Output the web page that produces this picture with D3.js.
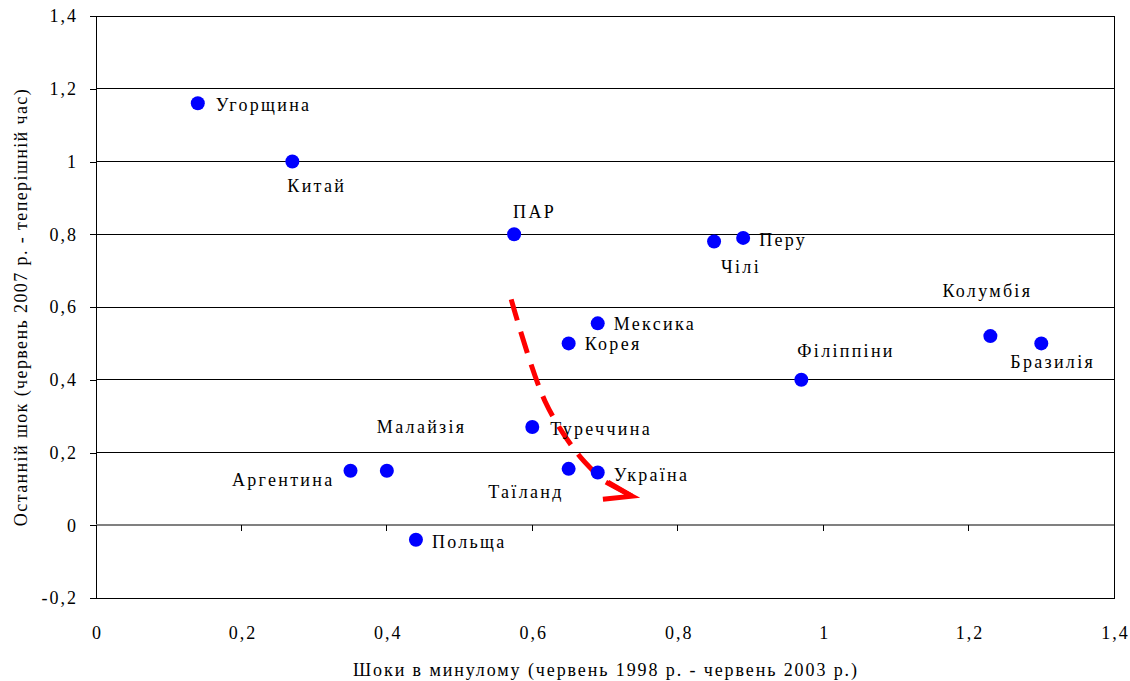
<!DOCTYPE html>
<html><head><meta charset="utf-8">
<script src="https://cdn.jsdelivr.net/npm/d3@7"></script>
<style>body{margin:0;background:#fff}svg{display:block}</style>
</head><body><svg id="c" width="1130" height="681"></svg>
<script>
const countries = ["Угорщина","Китай","ПАР","Чілі","Перу","Мексика","Корея","Філіппіни","Колумбія","Бразилія","Туреччина","Таїланд","Україна","Аргентина","Малайзія","Польща"];
const pastShock = [0.14,0.27,0.575,0.85,0.89,0.69,0.65,0.97,1.23,1.30,0.60,0.65,0.69,0.35,0.40,0.44];
const recentShock = [1.16,1.0,0.80,0.78,0.79,0.555,0.50,0.40,0.52,0.50,0.27,0.155,0.145,0.15,0.15,-0.04];
// label placement: [dx, dy, anchor]
const labelPlace = [[18,8,"start"],[-5,30,"start"],[-1,-16,"start"],[7,31,"start"],[16,8,"start"],[16,7,"start"],[16,7,"start"],[-4,-23,"start"],[-48,-39,"start"],[-31,25,"start"],[18,8,"start"],[-5,29,"end"],[16,8,"start"],[-16,15,"end"],[-10,-38,"start"],[16,8,"start"]];
const xTicks = [0,0.2,0.4,0.6,0.8,1,1.2,1.4];
const yTicks = [-0.2,0,0.2,0.4,0.6,0.8,1,1.2,1.4];
const arrowPath = [[0.571,0.621],[0.6175,0.341],[0.663,0.195],[0.693,0.132],[0.737,0.080]];
const xTitle = "Шоки в минулому (червень 1998 р. - червень 2003 р.)";
const yTitle = "Останній шок (червень 2007 р. - теперішній час)";

const FONT = "Liberation Serif";
const svg = d3.select("#c");
const L=96,R=1114,T=16,B=598;
const x = d3.scaleLinear().domain([0,1.4]).range([L,R]);
const y = d3.scaleLinear().domain([-0.2,1.4]).range([B,T]);
const fmt = v => String(+v.toFixed(1)).replace(".",",");

svg.append("g").selectAll("line").data(yTicks.filter(v=>v!==0)).join("line")
  .attr("x1",L).attr("x2",R).attr("y1",d=>y(d)).attr("y2",d=>y(d))
  .attr("stroke","#000").attr("stroke-width",1).attr("shape-rendering","crispEdges");
svg.append("rect").attr("x",L).attr("y",T).attr("width",R-L).attr("height",B-T)
  .attr("fill","none").attr("stroke","#000").attr("stroke-width",1).attr("shape-rendering","crispEdges");
svg.append("line").attr("x1",L).attr("x2",R).attr("y1",y(0)).attr("y2",y(0))
  .attr("stroke","#808080").attr("stroke-width",2).attr("shape-rendering","crispEdges");
svg.append("g").selectAll("line").data(xTicks).join("line")
  .attr("x1",d=>x(d)).attr("x2",d=>x(d)).attr("y1",y(0)).attr("y2",y(0)+6)
  .attr("stroke","#000").attr("shape-rendering","crispEdges");

const ya = d3.axisLeft(y).tickValues(yTicks).tickFormat(fmt).tickSize(6).tickPadding(12);
const yg = svg.append("g").attr("transform",`translate(${L},0)`).call(ya)
  .attr("font-family",FONT).attr("font-size",18);
yg.select(".domain").remove();
yg.selectAll("line").attr("stroke","#000").attr("shape-rendering","crispEdges");
yg.selectAll("text").attr("fill","#000").attr("font-family",FONT).attr("letter-spacing",2);

const xa = d3.axisBottom(x).tickValues(xTicks).tickFormat(fmt).tickSize(0).tickPadding(28);
const xg = svg.append("g").attr("transform",`translate(0,${B})`).call(xa)
  .attr("font-family",FONT).attr("font-size",18);
xg.select(".domain").remove();
xg.selectAll("text").attr("fill","#000").attr("font-family",FONT).attr("letter-spacing",2).attr("dx",1);

svg.append("text").attr("x",(L+R)/2+1).attr("y",676).attr("text-anchor","middle")
  .attr("font-family",FONT).attr("font-size",18).attr("letter-spacing",1.9).attr("fill","#000").text(xTitle);
svg.append("text").attr("transform",`translate(27,${(T+B)/2}) rotate(-90)`).attr("text-anchor","middle")
  .attr("font-family",FONT).attr("font-size",18).attr("letter-spacing",1.4).attr("fill","#000").text(yTitle);

// arrow
const line = d3.line().x(d=>x(d[0])).y(d=>y(d[1])).curve(d3.curveCatmullRom);
svg.append("path").attr("d",line(arrowPath.slice(0,4))).attr("fill","none").attr("stroke","#ff0000")
  .attr("stroke-width",5).attr("stroke-dasharray","22,12");
const tip = arrowPath[arrowPath.length-1], prev = arrowPath[arrowPath.length-2];
const tx=x(tip[0]), ty=y(tip[1]);
svg.append("path").attr("d",`M${x(prev[0])+8},${y(prev[1])+5}L${tx},${ty}`).attr("stroke","#ff0000").attr("stroke-width",5).attr("fill","none");
svg.append("path").attr("d",`M${tx-26},${ty-14}L${tx},${ty}L${tx-29},${ty+3}`).attr("stroke","#ff0000").attr("stroke-width",5).attr("fill","none").attr("stroke-linejoin","miter");

const data = countries.map((c,i)=>({c,x:pastShock[i],y:recentShock[i],p:labelPlace[i]}));
svg.append("g").selectAll("circle").data(data).join("circle")
  .attr("cx",d=>x(d.x)).attr("cy",d=>y(d.y)).attr("r",7).attr("fill","#0000ff");
svg.append("g").selectAll("text").data(data).join("text")
  .attr("x",d=>x(d.x)+d.p[0]).attr("y",d=>y(d.y)+d.p[1]).attr("text-anchor",d=>d.p[2])
  .attr("font-family",FONT).attr("font-size",18).attr("letter-spacing",2.3).attr("fill","#000").text(d=>d.c);
</script></body></html>
